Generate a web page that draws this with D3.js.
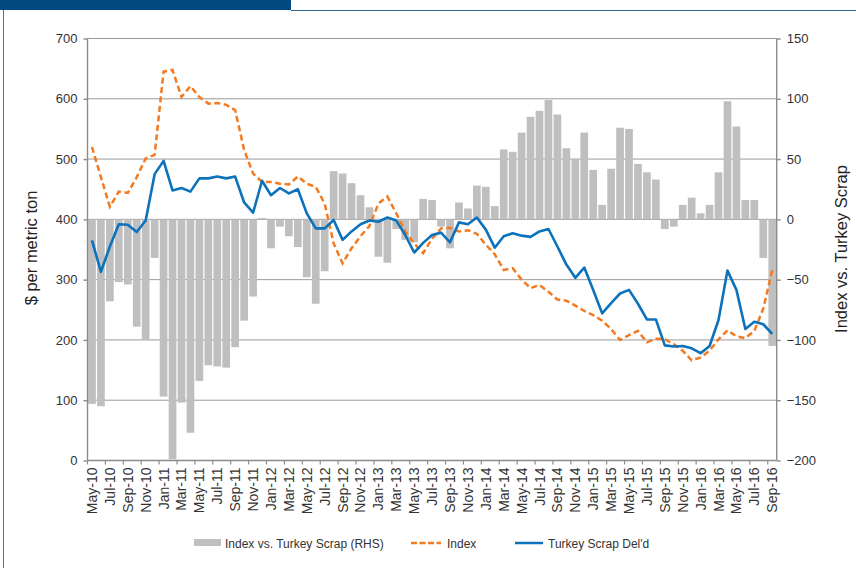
<!DOCTYPE html>
<html>
<head>
<meta charset="utf-8">
<script src="https://cdn.jsdelivr.net/npm/d3@7"></script>
<style>
  body { margin: 0; background: #fff; }
  svg { display: block; font-family: "Liberation Sans", Arial, sans-serif; }
  .tick text { fill: #333; }
</style>
</head>
<body>
<div id="chart"></div>
<script>
var months = [
  "May-10","Jun-10","Jul-10","Aug-10","Sep-10","Oct-10","Nov-10","Dec-10",
  "Jan-11","Feb-11","Mar-11","Apr-11","May-11","Jun-11","Jul-11","Aug-11","Sep-11","Oct-11","Nov-11","Dec-11",
  "Jan-12","Feb-12","Mar-12","Apr-12","May-12","Jun-12","Jul-12","Aug-12","Sep-12","Oct-12","Nov-12","Dec-12",
  "Jan-13","Feb-13","Mar-13","Apr-13","May-13","Jun-13","Jul-13","Aug-13","Sep-13","Oct-13","Nov-13","Dec-13",
  "Jan-14","Feb-14","Mar-14","Apr-14","May-14","Jun-14","Jul-14","Aug-14","Sep-14","Oct-14","Nov-14","Dec-14",
  "Jan-15","Feb-15","Mar-15","Apr-15","May-15","Jun-15","Jul-15","Aug-15","Sep-15","Oct-15","Nov-15","Dec-15",
  "Jan-16","Feb-16","Mar-16","Apr-16","May-16","Jun-16","Jul-16","Aug-16","Sep-16"
];

// Index ($/t, LHS)
var indexPrice = [
  520, 470, 421, 446, 444, 470, 501, 507,
  645, 648, 603, 621, 603, 592, 593, 590, 581, 515, 476, 462,
  462, 459, 458, 471, 459, 454, 426, 360, 327, 352, 372, 389,
  426, 438, 410, 380, 360, 344, 368, 385, 386, 380, 382, 376,
  358, 342, 316, 319, 300, 286, 291, 280, 267, 265, 257, 248,
  241, 232, 218, 200, 208, 215, 196, 202, 201, 193, 182, 166,
  171, 182, 201, 216, 206, 203, 215, 252, 316
];

// Turkey Scrap Del'd ($/t, LHS)
var turkeyScrap = [
  365, 313, 355, 392, 391, 379, 398, 475,
  497, 448, 452, 446, 468, 468, 471, 468, 471, 428, 411, 464,
  440, 452, 443, 450, 410, 385, 385, 399, 366, 380, 392, 398,
  396, 403, 398, 374, 345, 361, 374, 378, 362, 395, 392, 403,
  383, 353, 372, 377, 373, 371, 380, 384, 355, 325, 303, 320,
  283, 244, 261, 277, 283, 260, 234, 234, 191, 189, 190, 186,
  178, 190, 233, 315, 283, 218, 230, 226, 210
];

// Index vs. Turkey Scrap (RHS)
var spread = [
  -153, -155, -68, -52, -54, -89, -100, -32,
  -147, -199, -152, -177, -134, -121, -122, -123, -106, -84, -64, 1,
  -24, -6, -14, -23, -48, -70, -43, 40, 38, 30, 20, 10,
  -31, -36, -8, -17, -19, 17, 16, -6, -24, 14, 9, 28,
  27, 11, 58, 56, 72, 85, 90, 99, 87, 59, 50, 72,
  41, 12, 42, 76, 75, 46, 39, 33, -8, -6, 12, 18,
  5, 12, 39, 98, 77, 16, 16, -32, -105
];

var leftTicks = [0, 100, 200, 300, 400, 500, 600, 700];
var rightTicks = [-200, -150, -100, -50, 0, 50, 100, 150];

var W = 856, H = 568,
    x0 = 87.5, x1 = 776.7, yTop = 38.5, yBot = 460.5;

var svg = d3.select("#chart").append("svg")
    .attr("width", W)
    .attr("height", H);

// frame / header strip
svg.append("rect")
    .attr("x", 0).attr("y", 0).attr("width", 291).attr("height", 10)
    .attr("fill", "#004a7f");
svg.append("line")
    .attr("x1", 291).attr("x2", W).attr("y1", 10.5).attr("y2", 10.5)
    .attr("stroke", "#2f6491").attr("stroke-width", 1);
svg.append("line")
    .attr("x1", 3.5).attr("x2", 3.5).attr("y1", 10).attr("y2", H)
    .attr("stroke", "#4d7395").attr("stroke-width", 1);

var xScale = d3.scaleBand()
    .domain(months)
    .range([x0, x1])
    .paddingInner(0.14)
    .paddingOuter(0.07);
var yLeft = d3.scaleLinear().domain([0, 700]).range([yBot, yTop]);
var yRight = d3.scaleLinear().domain([-200, 150]).range([yBot, yTop]);

var step = xScale.step();
var cx = function(i) { return xScale(months[i]) + xScale.bandwidth() / 2; };

// gridlines
svg.append("g").attr("class", "grid")
  .selectAll("line")
  .data(leftTicks.slice(1))
  .enter().append("line")
    .attr("x1", x0).attr("x2", x1)
    .attr("y1", function(d) { return yLeft(d); })
    .attr("y2", function(d) { return yLeft(d); })
    .attr("stroke", "#9a9a9a")
    .attr("stroke-width", 1);

// bars (RHS)
svg.append("g").attr("class", "bars")
  .selectAll("rect")
  .data(spread)
  .enter().append("rect")
    .attr("x", function(d, i) { return xScale(months[i]); })
    .attr("width", xScale.bandwidth())
    .attr("y", function(d) { return yRight(Math.max(0, d)); })
    .attr("height", function(d) { return Math.abs(yRight(d) - yRight(0)); })
    .attr("fill", "#bfbfc0");

// lines (LHS)
var line = d3.line()
    .x(function(d, i) { return cx(i); })
    .y(function(d) { return yLeft(d); });

svg.append("path")
    .datum(indexPrice)
    .attr("fill", "none")
    .attr("stroke", "#f37a21")
    .attr("stroke-width", 2.5)
    .attr("stroke-dasharray", "6,3.5")
    .attr("d", line);

svg.append("path")
    .datum(turkeyScrap)
    .attr("fill", "none")
    .attr("stroke", "#0b72bb")
    .attr("stroke-width", 2.6)
    .attr("stroke-linejoin", "round")
    .attr("d", line);

// axes
var leftAxis = d3.axisLeft(yLeft).tickValues(leftTicks).tickSize(4).tickPadding(6);
var rightAxis = d3.axisRight(yRight).tickValues(rightTicks).tickSize(4).tickPadding(6);

var gl = svg.append("g").attr("class", "axis")
    .attr("transform", "translate(" + x0 + ",0)")
    .call(leftAxis);
var gr = svg.append("g").attr("class", "axis")
    .attr("transform", "translate(" + x1 + ",0)")
    .call(rightAxis);
[gl, gr].forEach(function(g) {
  g.selectAll("path, line").attr("stroke", "#8c8c8c").attr("stroke-width", 1.4);
  g.select(".domain").attr("d", "M0," + yTop + "V" + yBot);
  g.selectAll("text").attr("font-size", 13).attr("font-family", "Liberation Sans, Arial, sans-serif");
});

// bottom axis: ticks at every second category boundary, labels every second month
var bottom = svg.append("g").attr("class", "axis");
bottom.append("line")
    .attr("x1", x0).attr("x2", x1)
    .attr("y1", yBot).attr("y2", yBot)
    .attr("stroke", "#8c8c8c").attr("stroke-width", 1.4);
bottom.selectAll(".tk")
  .data(months.filter(function(d, i) { return i % 2 === 0; }))
  .enter().append("line")
    .attr("class", "tk")
    .attr("x1", function(d) { return xScale(d) - step * 0.07; })
    .attr("x2", function(d) { return xScale(d) - step * 0.07; })
    .attr("y1", yBot).attr("y2", yBot + 4)
    .attr("stroke", "#8c8c8c").attr("stroke-width", 1.2);
bottom.selectAll("text")
  .data(months.filter(function(d, i) { return i % 2 === 0; }))
  .enter().append("text")
    .attr("transform", function(d) {
      return "translate(" + (xScale(d) + xScale.bandwidth() / 2 + 5) + "," + (yBot + 7) + ") rotate(-90)";
    })
    .attr("text-anchor", "end")
    .attr("font-size", 14)
    .attr("fill", "#333")
    .text(function(d) { return d; });

// axis titles
svg.append("text")
    .attr("transform", "translate(37,248) rotate(-90)")
    .attr("text-anchor", "middle")
    .attr("font-size", 16.5)
    .attr("fill", "#222")
    .text("$ per metric ton");
svg.append("text")
    .attr("transform", "translate(847,249) rotate(-90)")
    .attr("text-anchor", "middle")
    .attr("font-size", 16.5)
    .attr("fill", "#222")
    .text("Index vs. Turkey Scrap");

// legend
var legend = svg.append("g").attr("class", "legend");
legend.append("rect")
    .attr("x", 194).attr("y", 539).attr("width", 27).attr("height", 7)
    .attr("fill", "#bfbfc0");
legend.append("text")
    .attr("x", 225).attr("y", 547.5).attr("font-size", 12).attr("fill", "#333")
    .text("Index vs. Turkey Scrap (RHS)");
legend.append("line")
    .attr("x1", 411).attr("x2", 441).attr("y1", 543).attr("y2", 543)
    .attr("stroke", "#f37a21").attr("stroke-width", 2.5)
    .attr("stroke-dasharray", "6,2.5");
legend.append("text")
    .attr("x", 447).attr("y", 547.5).attr("font-size", 12).attr("fill", "#333")
    .text("Index");
legend.append("line")
    .attr("x1", 515).attr("x2", 543).attr("y1", 543).attr("y2", 543)
    .attr("stroke", "#0b72bb").attr("stroke-width", 2.5);
legend.append("text")
    .attr("x", 548).attr("y", 547.5).attr("font-size", 12).attr("fill", "#333")
    .text("Turkey Scrap Del'd");
</script>
</body>
</html>
